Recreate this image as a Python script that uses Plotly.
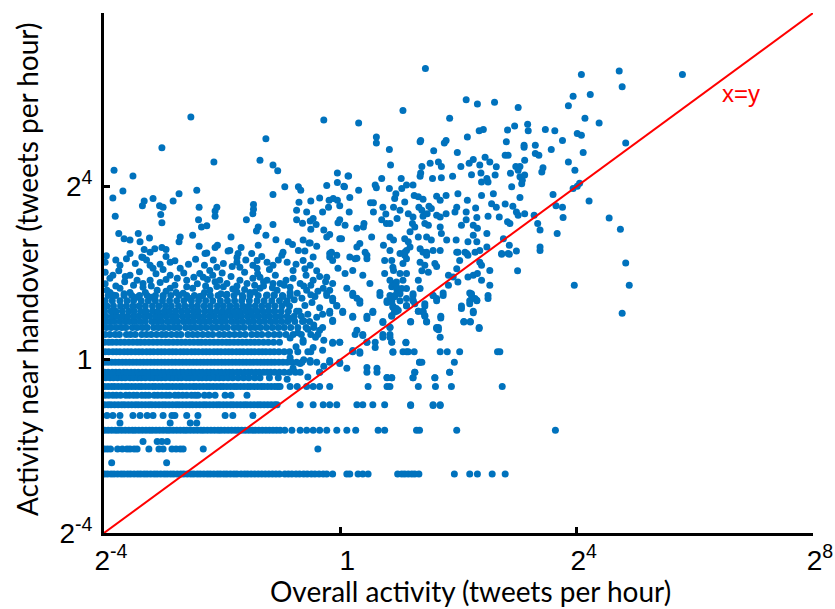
import math
import plotly.graph_objects as go

# All values are log2 of tweets per hour (x: overall activity, y: activity near handover)

# Quantised rows of "activity near handover" and the overall-activity values on each row
ROW_LEVELS = [-2.64, -2.38, -2.06, -1.89, -1.63, -1.46, -1.29, -1.04, -0.82, -0.62, -0.42,
              -0.29, -0.06, 0.18, 0.40, 0.58, 0.74, 0.88, 1.00, 1.12, 1.24, 1.36, 1.48]

ROW_XS = [
    # -2.64
    [-3.99,-3.94,-3.88,-3.83,-3.77,-3.71,-3.66,-3.60,-3.55,-3.49,-3.43,-3.38,-3.32,-3.27,-3.21,-3.15,
     -3.10,-3.04,-2.98,-2.93,-2.87,-2.82,-2.76,-2.70,-2.65,-2.59,-2.53,-2.48,-2.42,-2.37,-2.31,-2.25,
     -2.20,-2.14,-2.08,-2.03,-1.97,-1.92,-1.86,-1.80,-1.75,-1.68,-1.62,-1.57,-1.51,-1.45,-1.39,-1.33,
     -1.27,-1.21,-1.15,-1.09,-1.03,-0.94,-0.88,-0.82,-0.75,-0.69,-0.62,-0.56,-0.49,-0.43,-0.36,-0.29,
     -0.23,-0.13,0.11,0.16,0.30,0.38,0.47,0.97,1.04,1.09,1.15,1.21,1.26,1.33,1.93,2.19,2.32,2.57,2.79],
    # -2.38
    [-3.87, -2.94],
    # -2.06
    [-3.99,-3.94,-3.89,-3.77,-3.69,-3.61,-3.56,-3.49,-3.44,-3.24,-3.07,-3.00,-2.85,-2.78,-2.71,-2.66,
     -2.32,-0.38],
    # -1.89
    [-3.34,-3.10,-3.02,-2.93],
    # -1.63
    [-3.99,-3.93,-3.87,-3.81,-3.76,-3.70,-3.64,-3.58,-3.52,-3.47,-3.41,-3.35,-3.29,-3.23,-3.18,-3.12,
     -3.06,-3.00,-2.94,-2.89,-2.83,-2.77,-2.71,-2.65,-2.60,-2.54,-2.48,-2.42,-2.36,-2.31,-2.25,-2.19,
     -2.13,-2.07,-2.02,-1.96,-1.90,-1.84,-1.78,-1.73,-1.67,-1.61,-1.55,-1.49,-1.44,-1.38,-1.32,-1.26,
     -1.20,-1.14,-1.08,-1.02,-0.94,-0.82,-0.68,-0.57,-0.46,-0.35,-0.23,-0.06,0.11,0.26,0.64,0.75,
     1.29,1.34,1.97,3.64],
    # -1.46
    [-3.73,-2.88,-2.54,-2.43],
    # -1.29
    [-3.95,-3.85,-3.73,-3.51,-3.39,-3.27,-3.17,-3.00,-2.85,-2.80,-2.60,-2.41,-1.95,-1.82,-1.48],
    # -1.04
    [-3.99,-3.93,-3.88,-3.82,-3.76,-3.70,-3.65,-3.59,-3.53,-3.47,-3.42,-3.36,-3.30,-3.24,-3.19,-3.13,
     -3.07,-3.01,-2.96,-2.90,-2.84,-2.78,-2.73,-2.67,-2.61,-2.55,-2.50,-2.44,-2.38,-2.32,-2.27,-2.21,
     -2.15,-2.09,-2.04,-1.98,-1.92,-1.86,-1.81,-1.75,-1.69,-1.63,-1.58,-1.52,-1.46,-1.40,-1.35,-1.29,
     -1.23,-1.17,-1.11,-1.07,-0.68,-0.46,-0.29,-0.18,-0.06,0.28,0.38,0.55,0.75,1.19,1.57,1.69],
    # -0.82
    [-3.98,-3.92,-3.85,-3.79,-3.72,-3.63,-3.57,-3.50,-3.44,-3.36,-3.30,-3.24,-3.15,-3.09,-3.02,-2.95,
     -2.89,-2.80,-2.74,-2.67,-2.60,-2.52,-2.46,-2.41,-2.30,-2.22,-2.12,-1.95,-1.85,-1.58],
    # -0.62
    [-3.99,-3.93,-3.87,-3.82,-3.76,-3.70,-3.64,-3.59,-3.53,-3.47,-3.41,-3.36,-3.30,-3.24,-3.18,-3.13,
     -3.07,-3.01,-2.95,-2.90,-2.84,-2.78,-2.72,-2.67,-2.61,-2.55,-2.49,-2.44,-2.38,-2.32,-2.26,-2.21,
     -2.15,-2.09,-2.03,-1.98,-1.92,-1.86,-1.80,-1.75,-1.69,-1.63,-1.57,-1.52,-1.46,-1.40,-1.34,-1.29,
     -1.23,-1.17,-1.11,-1.06,-1.02,-0.85,-0.73,-0.57,-0.46,-0.35,-0.18,0.47,0.79,0.84,1.32,1.61,1.88,2.74],
    # -0.42
    [-3.97,-3.90,-3.84,-3.77,-3.70,-3.64,-3.56,-3.50,-3.43,-3.37,-3.30,-3.22,-3.16,-3.09,-3.03,-2.96,
     -2.88,-2.82,-2.75,-2.69,-2.61,-2.55,-2.48,-2.40,-2.34,-2.27,-2.20,-2.12,-2.05,-1.98,-1.90,-1.82,
     -1.73,-1.64,-1.55,-1.45,-1.36,-1.20,-1.05,0.79,0.87,1.23,1.60],
    # -0.29
    [-3.99,-3.93,-3.86,-3.80,-3.74,-3.67,-3.61,-3.54,-3.48,-3.42,-3.35,-3.29,-3.22,-3.16,-3.10,-3.03,
     -2.97,-2.90,-2.84,-2.78,-2.71,-2.65,-2.58,-2.52,-2.46,-2.39,-2.33,-2.26,-2.20,-2.14,-2.07,-2.01,
     -1.94,-1.88,-1.82,-1.75,-1.69,-1.62,-1.56,-1.50,-1.43,-1.37,-1.30,-1.24,-1.18,-1.11,-1.03,-0.95,
     -0.86,-0.76,-0.68,-0.35,0.45,0.62,1.26,1.85],
    # -0.06
    [-3.99,-3.93,-3.87,-3.81,-3.75,-3.69,-3.63,-3.57,-3.51,-3.45,-3.39,-3.33,-3.27,-3.21,-3.15,-3.09,
     -3.03,-2.97,-2.91,-2.85,-2.79,-2.73,-2.67,-2.61,-2.55,-2.49,-2.43,-2.37,-2.31,-2.25,-2.19,-2.13,
     -2.07,-2.01,-1.95,-1.89,-1.83,-1.77,-1.71,-1.65,-1.59,-1.53,-1.47,-1.41,-1.35,-1.29,-1.23,-1.17,
     -1.11,-1.04,-0.97,-0.90,-0.82,-0.74,-0.65,-0.51,-0.40,-0.18,-0.01,1.34,1.38,1.93],
    # 0.18
    [-3.98,-3.92,-3.85,-3.79,-3.73,-3.66,-3.60,-3.54,-3.47,-3.41,-3.35,-3.28,-3.22,-3.16,-3.09,-3.03,
     -2.97,-2.90,-2.84,-2.78,-2.71,-2.65,-2.59,-2.52,-2.46,-2.40,-2.33,-2.27,-2.21,-2.14,-2.08,-2.02,
     -1.95,-1.89,-1.83,-1.76,-1.70,-1.64,-1.57,-1.51,-1.45,-1.38,-1.32,-1.26,-1.19,-1.12,-1.04,-0.95,
     -0.86,-0.72,-0.55,0.21,0.33,0.89,1.06,1.12,1.25,1.69,1.81,2.02,2.66,2.70],
    # 0.40
    [-3.99,-3.92,-3.86,-3.79,-3.72,-3.65,-3.58,-3.51,-3.44,-3.38,-3.31,-3.24,-3.17,-3.10,-3.03,-2.96,
     -2.90,-2.83,-2.76,-2.69,-2.62,-2.55,-2.48,-2.41,-2.35,-2.28,-2.21,-2.14,-2.07,-2.00,-1.93,-1.87,
     -1.80,-1.73,-1.66,-1.59,-1.52,-1.45,-1.38,-1.30,-1.22,-1.13,-1.03,-0.63,-0.13,-0.01,0.45,0.59,
     0.87,1.11],
    # 0.58
    [-3.98,-3.90,-3.81,-3.74,-3.62,-3.55,-3.47,-3.36,-3.28,-3.20,-3.11,-3.02,-2.95,-2.86,-2.77,-2.70,
     -2.58,-2.50,-2.42,-2.33,-2.24,-2.16,-2.05,-1.97,-1.88,-1.79,-1.70,-1.61,-1.50,-1.41,-1.33,-1.22,
     -1.12,-1.03,-0.92,-0.80,-0.66,-0.50,-0.38,0.25,0.38,0.72,0.84],
    # 0.74
    [-3.96,-3.88,-3.79,-3.70,-3.63,-3.52,-3.44,-3.35,-3.27,-3.16,-3.08,-2.99,-2.90,-2.81,-2.73,-2.62,
     -2.53,-2.45,-2.36,-2.27,-2.17,-2.09,-2.00,-1.91,-1.80,-1.72,-1.63,-1.52,-1.44,-1.35,-1.25,-1.15,
     -1.05,-0.95,-0.84,-0.72,-0.58,-0.45,-0.30,0.84,1.63,1.66,2.35],
    # 0.88
    [-3.99,-3.91,-3.83,-3.73,-3.64,-3.57,-3.48,-3.39,-3.30,-3.19,-3.11,-3.03,-2.93,-2.84,-2.76,-2.66,
     -2.57,-2.48,-2.38,-2.30,-2.21,-2.11,-2.02,-1.94,-1.84,-1.75,-1.66,-1.56,-1.47,-1.37,-1.28,-1.18,
     -1.09,-0.99,-0.89,-0.77,-0.64,-0.52,-0.13,0.72,1.19,1.46,2.09,2.20],
    # 1.00
    [-3.97,-3.86,-3.78,-3.68,-3.60,-3.50,-3.41,-3.31,-3.23,-3.13,-3.04,-2.95,-2.85,-2.77,-2.67,-2.58,
     -2.49,-2.40,-2.31,-2.21,-2.13,-2.03,-1.95,-1.85,-1.76,-1.67,-1.57,-1.48,-1.39,-1.29,-1.20,-1.10,
     -1.01,-0.90,-0.78,-0.66,0.21,0.45,0.87,1.43,1.70],
    # 1.12
    [-3.99,-3.88,-3.80,-3.69,-3.58,-3.49,-3.38,-3.29,-3.18,-3.09,-2.98,-2.89,-2.79,-2.69,-2.59,-2.49,
     -2.40,-2.29,-2.20,-2.10,-2.00,-1.90,-1.80,-1.70,-1.60,-1.51,-1.41,-1.31,-1.21,-1.11,-1.00,-0.88,
     -0.74,-0.18,0.04,0.55,0.92,0.95,1.32,1.40,2.25],
    # 1.24
    [-3.95,-3.84,-3.72,-3.62,-3.51,-3.41,-3.30,-3.18,-3.07,-2.96,-2.86,-2.74,-2.63,-2.52,-2.42,-2.31,
     -2.20,-2.08,-1.98,-1.87,-1.76,-1.65,-1.55,-1.44,-1.33,-1.22,-1.11,-0.99,-0.86,-0.06,0.89,1.12,
     1.43,2.05],
    # 1.36
    [-3.98,-3.86,-3.73,-3.61,-3.50,-3.37,-3.25,-3.13,-3.01,-2.89,-2.77,-2.65,-2.52,-2.40,-2.28,-2.16,
     -2.03,-1.91,-1.79,-1.67,-1.54,-1.41,-1.29,-1.16,-1.03,-0.90,-0.13,0.33,0.79,0.84,0.87,1.01,
     1.23,1.63,2.19,2.31],
    # 1.48
    [-3.93,-3.80,-3.66,-3.53,-3.40,-3.27,-3.13,-3.00,-2.87,-2.73,-2.60,-2.47,-2.33,-2.20,-2.07,-1.93,
     -1.80,-1.66,-1.53,-1.39,-1.25,-1.12,-0.98,-0.85,-0.23,0.21,0.67,0.92,1.23,1.57,1.74,2.22,2.50],
]

# Scattered points (log2 x, log2 y), by region of the chart
PTS_LEFT_UPPER = [
    (-3.34,2.36),(-2.26,2.46),(-1.87,2.52),(-1.75,2.36),(-1.41,2.29),(-0.99,2.41),(-0.63,2.29),
    (-3.98,2.25),(-3.73,2.18),(-3.22,2.18),(-3.17,2.11),(-2.88,2.25),(-2.71,2.11),(-2.21,2.06),
    (-2.09,2.13),(-1.75,2.25),(-1.70,2.13),(-1.48,2.18),(-1.41,2.11),(-1.24,2.25),(-1.14,2.18),
    (-0.90,2.25),(-0.80,2.06),(-0.51,2.18),
    (-3.90,1.88),(-3.85,1.95),(-3.56,1.95),(-3.44,1.83),(-3.34,1.76),(-3.22,1.83),(-2.88,1.95),
    (-2.76,1.88),(-2.60,1.83),(-2.38,1.99),(-2.32,1.90),(-2.16,1.95),(-2.04,1.83),(-1.92,1.76),
    (-1.70,1.83),(-1.58,1.76),(-1.48,1.88),(-1.36,1.90),(-1.24,1.83),(-1.14,1.76),(-1.02,1.76),
    (-0.80,1.88),(-0.68,1.76),(-0.46,1.83),(-0.35,1.92),
    (-3.95,1.60),(-3.85,1.49),(-3.73,1.65),(-3.56,1.55),(-3.44,1.44),(-3.34,1.67),(-3.10,1.60),
    (-3.00,1.46),(-2.88,1.65),(-2.66,1.53),(-2.50,1.65),(-2.38,1.46),(-2.21,1.60),(-2.09,1.69),
    (-1.92,1.51),(-1.82,1.63),(-1.65,1.44),(-1.53,1.55),(-1.36,1.65),(-1.24,1.49),(-1.07,1.60),
    (-0.97,1.46),(-0.85,1.67),(-0.73,1.53),(-0.57,1.60),(-0.43,1.46),(-0.29,1.65),(-0.18,1.60),
]

PTS_LEFT_FILL = [
    (-3.96,2.40),(-3.80,2.30),(-3.62,2.33),(-3.47,2.22),(-3.28,2.30),(-3.05,2.20),(-2.95,2.38),
    (-2.80,2.28),(-2.57,2.20),(-2.45,2.32),(-2.30,2.18),(-2.15,2.30),(-1.98,2.22),(-1.83,2.15),
    (-1.60,2.30),(-1.33,2.38),(-1.20,2.08),(-1.05,2.30),(-0.75,2.20),(-0.60,2.10),
    (-3.98,2.02),(-3.75,2.05),(-3.64,1.92),(-3.40,2.03),(-3.12,1.98),(-3.00,2.08),(-2.95,1.85),
    (-2.65,2.00),(-2.48,1.90),(-2.25,1.85),(-2.00,2.00),(-1.85,1.92),(-1.62,2.02),(-1.40,1.98),
    (-1.30,1.80),(-1.10,1.95),(-0.92,1.83),(-0.58,1.95),(-0.40,2.05),(-0.25,1.80),
    (-3.98,1.75),(-3.80,1.70),(-3.65,1.80),(-3.50,1.72),(-3.20,1.70),(-3.05,1.78),(-2.80,1.72),
    (-2.60,1.68),(-2.42,1.75),(-2.28,1.70),(-2.12,1.80),(-1.98,1.68),(-1.75,1.70),(-1.62,1.62),
    (-1.45,1.72),(-1.30,1.70),(-1.15,1.66),(-0.95,1.72),(-0.85,1.55),(-0.62,1.70),(-0.50,1.72),
    (-0.38,1.58),
    (-3.90,1.55),(-3.66,1.52),(-3.30,1.55),(-3.20,1.44),(-2.95,1.58),(-2.78,1.55),(-2.56,1.42),
    (-2.30,1.55),(-2.02,1.52),(-1.75,1.56),(-1.45,1.56),(-1.12,1.50),(-0.65,1.42),(-0.50,1.50),
    (-0.92,1.30),(-0.78,1.38),(-0.60,1.25),(-0.48,1.32),(-0.35,1.20),(-0.70,1.12),(-0.55,1.05),
    (-0.40,0.98),(-0.30,1.05),(-0.85,0.95),(-0.62,0.90),(-0.45,0.80),(-0.35,0.68),(-0.72,0.62),
    (-0.55,0.70),(-0.85,0.50),(-0.42,0.52),(-0.28,0.45),(-0.75,0.30),(-0.50,0.18),(-0.30,0.22),
    (-0.85,0.05),(-0.62,0.00),(-0.28,-0.15),(-0.80,-0.20),(-0.55,-0.40),(-0.90,-0.45),
]

PTS_LEFT_TOP = [
    (-2.53,5.60),(-0.28,5.53),(-1.26,5.10),(-3.02,4.89),(-1.36,4.60),(-2.14,4.56),(-1.14,4.49),
    (-1.06,4.36),(-3.83,4.37),(-3.51,4.24),(-0.05,4.31),(0.13,4.24),(-0.94,3.99),(-0.71,3.99),
    (-0.67,3.91),(-0.23,4.02),(-0.05,4.09),(0.07,3.99),(-3.68,3.89),(-2.73,3.83),(-2.43,3.91),
    (-1.14,3.81),(-3.85,3.73),(-3.17,3.72),(-3.32,3.66),(-3.35,3.55),(-2.83,3.66),(-3.06,3.55),
    (-3.00,3.52),(-2.39,3.52),(-2.09,3.52),(-2.12,3.43),(-1.47,3.58),(-1.47,3.47),(-1.48,3.37),
    (-0.70,3.63),(-0.50,3.66),(-0.35,3.73),(-0.19,3.68),(-0.12,3.72),(-0.05,3.68),(-0.74,3.45),
    (-0.57,3.41),(-0.30,3.41),(-0.20,3.52),(-3.04,3.35),(-3.81,3.31),(-2.12,3.31),(-1.59,3.23),
    (-2.40,3.23),(-0.74,3.23),(-0.64,3.15),(-0.51,3.20),(-0.46,3.26),(-0.41,3.12),(-3.02,3.16),
    (-1.14,3.12),(-0.04,3.16),(-2.35,3.06),(-2.26,3.09),(-1.39,3.06),(-1.42,2.97),(-0.50,3.01),
    (-0.28,2.99),(-0.23,2.83),(-0.18,2.89),(-3.75,2.91),(-3.42,2.91),(-3.66,2.79),(-3.56,2.76),
    (-3.39,2.72),(-3.23,2.81),(-2.71,2.83),(-2.73,2.72),(-2.50,2.87),(-1.85,2.83),(-1.26,2.87),
    (-1.09,2.77),(-0.63,2.76),(-0.51,2.69),(-0.01,2.79),(-3.32,2.54),(-3.22,2.48),(-3.14,2.56),
    (-3.02,2.59),(-2.95,2.54),(-2.39,2.62),(-2.08,2.64),(-2.12,2.59),(-1.90,2.51),(-1.68,2.59),
    (-1.39,2.64),(-0.88,2.72),(-0.81,2.66),(-0.71,2.52),(-0.60,2.51),(-0.53,2.69),(-0.40,2.62),
    (-0.15,2.48),(-0.18,2.37),(-3.56,2.45),(-3.36,2.37),(-2.29,2.45),(-1.73,2.45),(-1.50,2.45),
    (-0.97,2.48),(-0.46,2.37),(-0.06,2.41),
]

PTS_CENTER = [
    (-0.18,2.45),(-0.13,2.29),(0.28,2.34),(0.45,2.41),(0.75,2.29),(0.89,2.13),(0.21,2.06),
    (0.38,1.95),(-0.04,2.11),(0.08,1.99),(-0.23,1.90),(-0.13,1.76),(0.75,1.99),(0.50,1.76),
    (0.67,1.55),(0.11,1.65),(0.21,1.53),(-0.23,1.53),(-0.13,1.42),(-0.06,1.25),(0.28,1.42),
    (0.33,1.30),(0.89,1.76),(0.96,1.60),(0.79,1.32),(0.89,1.21),(0.55,1.09),(0.45,0.95),
    (0.04,1.09),(0.21,0.98),(-0.18,1.07),(-0.13,0.91),(0.72,0.86),(0.84,0.75),(0.28,0.68),
    (0.38,0.56),(-0.01,0.40),(-0.13,0.38),(0.45,0.40),(0.59,0.28),(0.72,0.52),(0.89,0.17),
    (0.21,0.21),(0.33,0.15),(-0.01,-0.09),(0.11,-0.20),(0.45,-0.18),(0.62,-0.20),(0.79,-0.41),
    (-0.18,-0.02),(-0.35,-0.29),(-0.51,-0.02),(-0.68,-0.09),(-0.46,0.28),(-0.63,0.45),
]

PTS_RIGHT_MID = [
    (1.09,2.41),(1.12,2.52),(1.40,2.48),(1.46,2.41),(1.57,2.52),(1.99,2.48),(2.11,2.48),(2.16,2.41),
    (2.28,2.48),(2.73,2.43),(2.86,2.43),(2.98,2.51),(3.38,2.52),(0.87,2.29),(1.06,2.22),(1.12,2.33),
    (1.35,2.25),(1.43,2.18),(1.60,2.22),(1.63,2.15),(2.02,2.29),(1.97,2.10),(2.36,2.25),(2.39,2.18),
    (2.53,2.06),(3.00,2.05),(0.90,2.06),(1.01,1.99),(1.12,1.99),(1.38,2.05),(1.49,2.02),(1.83,1.95),
    (1.91,1.91),(2.16,1.91),(2.25,1.95),(2.32,1.99),(0.84,1.83),(0.95,1.79),(1.06,1.83),(1.32,1.83),
    (1.99,1.79),(2.39,1.83),(2.53,1.72),(1.83,1.72),(0.87,1.68),(0.95,1.68),(1.04,1.64),(1.12,1.64),
    (1.35,1.64),(0.84,1.48),(0.92,1.45),(1.01,1.52),(1.23,1.52),(1.57,1.48),(1.63,1.41),(1.74,1.54),
    (2.19,1.54),(2.22,1.52),(2.28,1.41),(2.31,1.37),(2.50,1.41),(1.12,1.41),(1.23,1.37),(1.26,1.29),
    (0.84,1.37),(0.87,1.33),(1.43,1.29),(2.19,1.29),(1.12,1.25),(2.05,1.18),(0.95,1.18),(0.98,1.14),
    (1.32,1.12),(1.40,1.10),(1.43,1.02),(1.46,0.87),(0.92,1.10),(0.87,1.02),(2.25,1.08),(1.70,0.96),
    (1.19,0.87),(2.09,0.87),(2.20,0.87),(1.63,0.72),(1.66,0.69),(2.35,0.72),(1.69,0.52),(0.84,0.52),
    (0.87,0.41),(1.11,0.39),(1.15,0.18),(1.34,-0.06),(1.26,-0.29),(1.85,-0.29),(0.87,-0.42),
    (1.23,-0.42),(1.60,-0.42),(1.19,-1.06),(1.57,-1.06),(1.69,-1.06),
]

PTS_UPPER_RIGHT = [
    (1.44,6.72),(2.13,6.00),(2.32,5.90),(2.61,5.94),(3.94,6.08),(1.06,5.75),(3.01,5.82),(3.86,5.86),
    (0.31,5.46),(1.85,5.57),(2.35,5.28),(2.42,5.31),(2.95,5.39),(3.17,5.43),(3.18,5.28),(2.83,5.30),
    (3.47,5.31),(3.63,5.28),(4.01,5.22),(0.61,5.14),(0.61,5.00),(1.35,5.03),(1.36,5.06),(1.79,5.06),
    (1.76,5.00),(2.15,5.14),(2.81,5.03),(3.11,4.95),(3.11,4.90),(3.30,4.95),(3.76,5.06),(3.57,4.85),
    (0.83,4.85),(1.58,4.82),(1.98,4.78),(2.79,4.72),(2.84,4.72),(3.30,4.76),(3.36,4.72),(0.85,4.49),
    (1.38,4.46),(1.52,4.53),(1.66,4.56),(1.71,4.46),(2.04,4.46),(2.18,4.53),(2.25,4.62),(2.45,4.67),
    (2.36,4.49),(2.53,4.56),(2.64,4.45),(2.97,4.46),(3.04,4.46),(3.12,4.60),(3.41,4.33),(3.43,4.43),
    (3.86,4.56),(3.97,4.37),(0.14,4.24),(0.70,4.18),(1.03,4.18),(1.36,4.31),(1.35,4.23),(1.56,4.18),
    (1.71,4.20),(1.90,4.23),(2.22,4.27),(2.38,4.31),(2.48,4.18),(2.62,4.26),(2.88,4.30),(3.01,4.37),
    (3.04,4.22),(3.12,4.26),(0.06,4.00),(0.59,4.03),(0.61,3.97),(0.83,3.95),(1.04,3.95),(1.12,4.03),
    (1.23,4.03),(2.39,4.10),(2.50,4.10),(2.90,3.99),(3.07,4.06),(3.08,4.14),(3.94,3.95),(4.01,4.00),
    (0.31,3.91),(0.94,3.83),(1.25,3.79),(1.32,3.76),(1.40,3.70),(1.63,3.77),(1.69,3.68),(1.79,3.79),
    (1.99,3.83),(2.39,3.79),(2.59,3.83),(3.04,3.74),(3.60,3.81),(0.16,3.74),(0.51,3.62),(0.56,3.62),
    (0.72,3.52),(0.92,3.72),(0.90,3.52),(1.09,3.64),(1.33,3.52),(1.38,3.45),(1.50,3.54),(1.54,3.49),
    (1.97,3.52),(2.15,3.68),(2.29,3.50),(2.56,3.60),(2.64,3.52),(2.79,3.59),(2.92,3.54),(3.12,3.37),
    (3.65,3.55),(3.76,3.52),(-0.01,3.55),(0.15,3.41),(0.56,3.41),(0.77,3.36),(1.01,3.45),(0.96,3.26),
    (1.15,3.37),(1.23,3.29),(1.40,3.31),(1.47,3.37),(1.63,3.33),(1.69,3.29),(1.79,3.37),(1.94,3.41),
    (2.13,3.41),(2.13,3.23),(2.31,3.28),(2.50,3.31),(2.69,3.29),(2.98,3.41),(3.01,3.33),(3.28,3.33),
    (3.77,3.28),(-0.01,3.23),(0.08,3.10),(0.28,3.03),(0.40,3.14),(0.39,3.06),(0.70,3.23),(0.78,3.14),
    (0.84,3.14),(1.22,3.14),(1.26,3.06),(1.18,2.95),(1.43,3.14),(1.49,3.10),(1.69,3.06),(2.05,3.10),
    (2.25,3.10),(2.32,3.03),(2.48,2.91),(2.83,3.18),(2.87,3.14),(3.34,3.14),(3.38,2.99),(3.67,2.91),
    (0.53,2.83),(0.73,2.64),(0.84,2.83),(0.90,2.76),(1.09,2.79),(1.15,2.72),(1.18,2.60),(1.32,2.83),
    (1.46,2.83),(1.54,2.76),(1.71,2.91),(1.80,2.76),(1.96,2.76),(2.16,2.72),(2.25,2.87),(2.31,2.72),
    (2.48,2.60),(2.76,2.79),(2.86,2.64),(3.38,2.60),(0.02,2.79),(0.28,2.60),(0.33,2.68),(0.42,2.48),
    (0.84,2.52),(1.01,2.45),(1.09,2.48),(1.35,2.56),(1.46,2.48),(1.69,2.52),(1.97,2.48),(2.14,2.45),
    (2.36,2.52),(2.73,2.45),(2.84,2.45),(0.16,2.37),(0.25,2.33),(0.45,2.33),
]

PTS_FAR_RIGHT = [
    (4.08,6.58),(4.72,6.66),(5.79,6.58),(4.77,6.30),(4.23,6.12),(4.14,5.57),(4.38,5.46),(4.08,5.18),
    (4.83,5.00),(4.11,4.78),(4.05,4.07),(4.21,3.66),(4.55,3.27),(4.74,3.01),(4.83,2.23),(4.89,1.72),
    (4.77,1.07),(3.96,1.72),
]

# Axis extent, tick labels and text
AXIS_MIN_EXP, AXIS_MAX_EXP = -4, 8
TICK_EXPS = [-4, 0, 4, 8]
TICK_TEXT = ["2<sup>-4</sup>", "1", "2<sup>4</sup>", "2<sup>8</sup>"]
LABEL_POS_EXP = (6.78, 6.15)
X_TITLE = "Overall activity (tweets per hour)"
Y_TITLE = "Activity near handover (tweets per hour)"

xs, ys = [], []
for lvl, row in zip(ROW_LEVELS, ROW_XS):
    for v in row:
        xs.append(2.0 ** v)
        ys.append(2.0 ** lvl)
for group in (PTS_LEFT_UPPER, PTS_LEFT_FILL, PTS_LEFT_TOP, PTS_CENTER, PTS_RIGHT_MID,
              PTS_UPPER_RIGHT, PTS_FAR_RIGHT):
    for a, b in group:
        xs.append(2.0 ** a)
        ys.append(2.0 ** b)

line_vals = [2.0 ** AXIS_MIN_EXP, 2.0 ** AXIS_MAX_EXP]
tickvals = [2.0 ** e for e in TICK_EXPS]
rng = [AXIS_MIN_EXP * math.log10(2), AXIS_MAX_EXP * math.log10(2)]

fig = go.Figure()
fig.add_trace(go.Scatter(x=xs, y=ys, mode="markers",
                         marker=dict(size=7, color="#0072BD", line=dict(width=0)),
                         cliponaxis=False, hoverinfo="skip"))
fig.add_trace(go.Scatter(x=line_vals, y=line_vals, mode="lines",
                         line=dict(color="#FF0000", width=2), hoverinfo="skip"))

tick_font = dict(family="Liberation Sans, Arial, sans-serif", size=28, color="black")
title_font_family = "Lato, Open Sans, sans-serif"
axis_common = dict(type="log", range=rng, tickvals=tickvals, ticktext=TICK_TEXT,
                   ticks="inside", ticklen=6, tickwidth=3, tickcolor="black",
                   showline=True, linewidth=3, linecolor="black", mirror=False,
                   showgrid=False, zeroline=False, tickfont=tick_font)

fig.update_xaxes(**axis_common, ticklabelstandoff=0, ticklabelshift=7)
fig.update_yaxes(**axis_common, ticklabelstandoff=3)

# Axis titles
fig.add_annotation(xref="paper", yref="paper", x=0.5176, y=-0.1115, text=X_TITLE,
                   showarrow=False, xanchor="center", yanchor="middle",
                   font=dict(family=title_font_family, size=28, color="black"))
fig.add_annotation(xref="paper", yref="paper", x=-0.1086, y=0.5058, text=Y_TITLE,
                   showarrow=False, xanchor="center", yanchor="middle", textangle=-90,
                   font=dict(family=title_font_family, size=28, color="black"))

fig.add_annotation(x=LABEL_POS_EXP[0] * math.log10(2), y=LABEL_POS_EXP[1] * math.log10(2),
                   xref="x", yref="y", text="x=y", showarrow=False,
                   font=dict(family="Liberation Sans, Arial, sans-serif", size=24, color="#FF0000"))

fig.update_layout(width=835, height=609, margin=dict(l=104, r=22, t=13, b=76, autoexpand=False),
                  plot_bgcolor="white", paper_bgcolor="white", showlegend=False)

fig.write_html("out.html", config={"displayModeBar": False},
               post_script="document.body.style.margin='0px';")
